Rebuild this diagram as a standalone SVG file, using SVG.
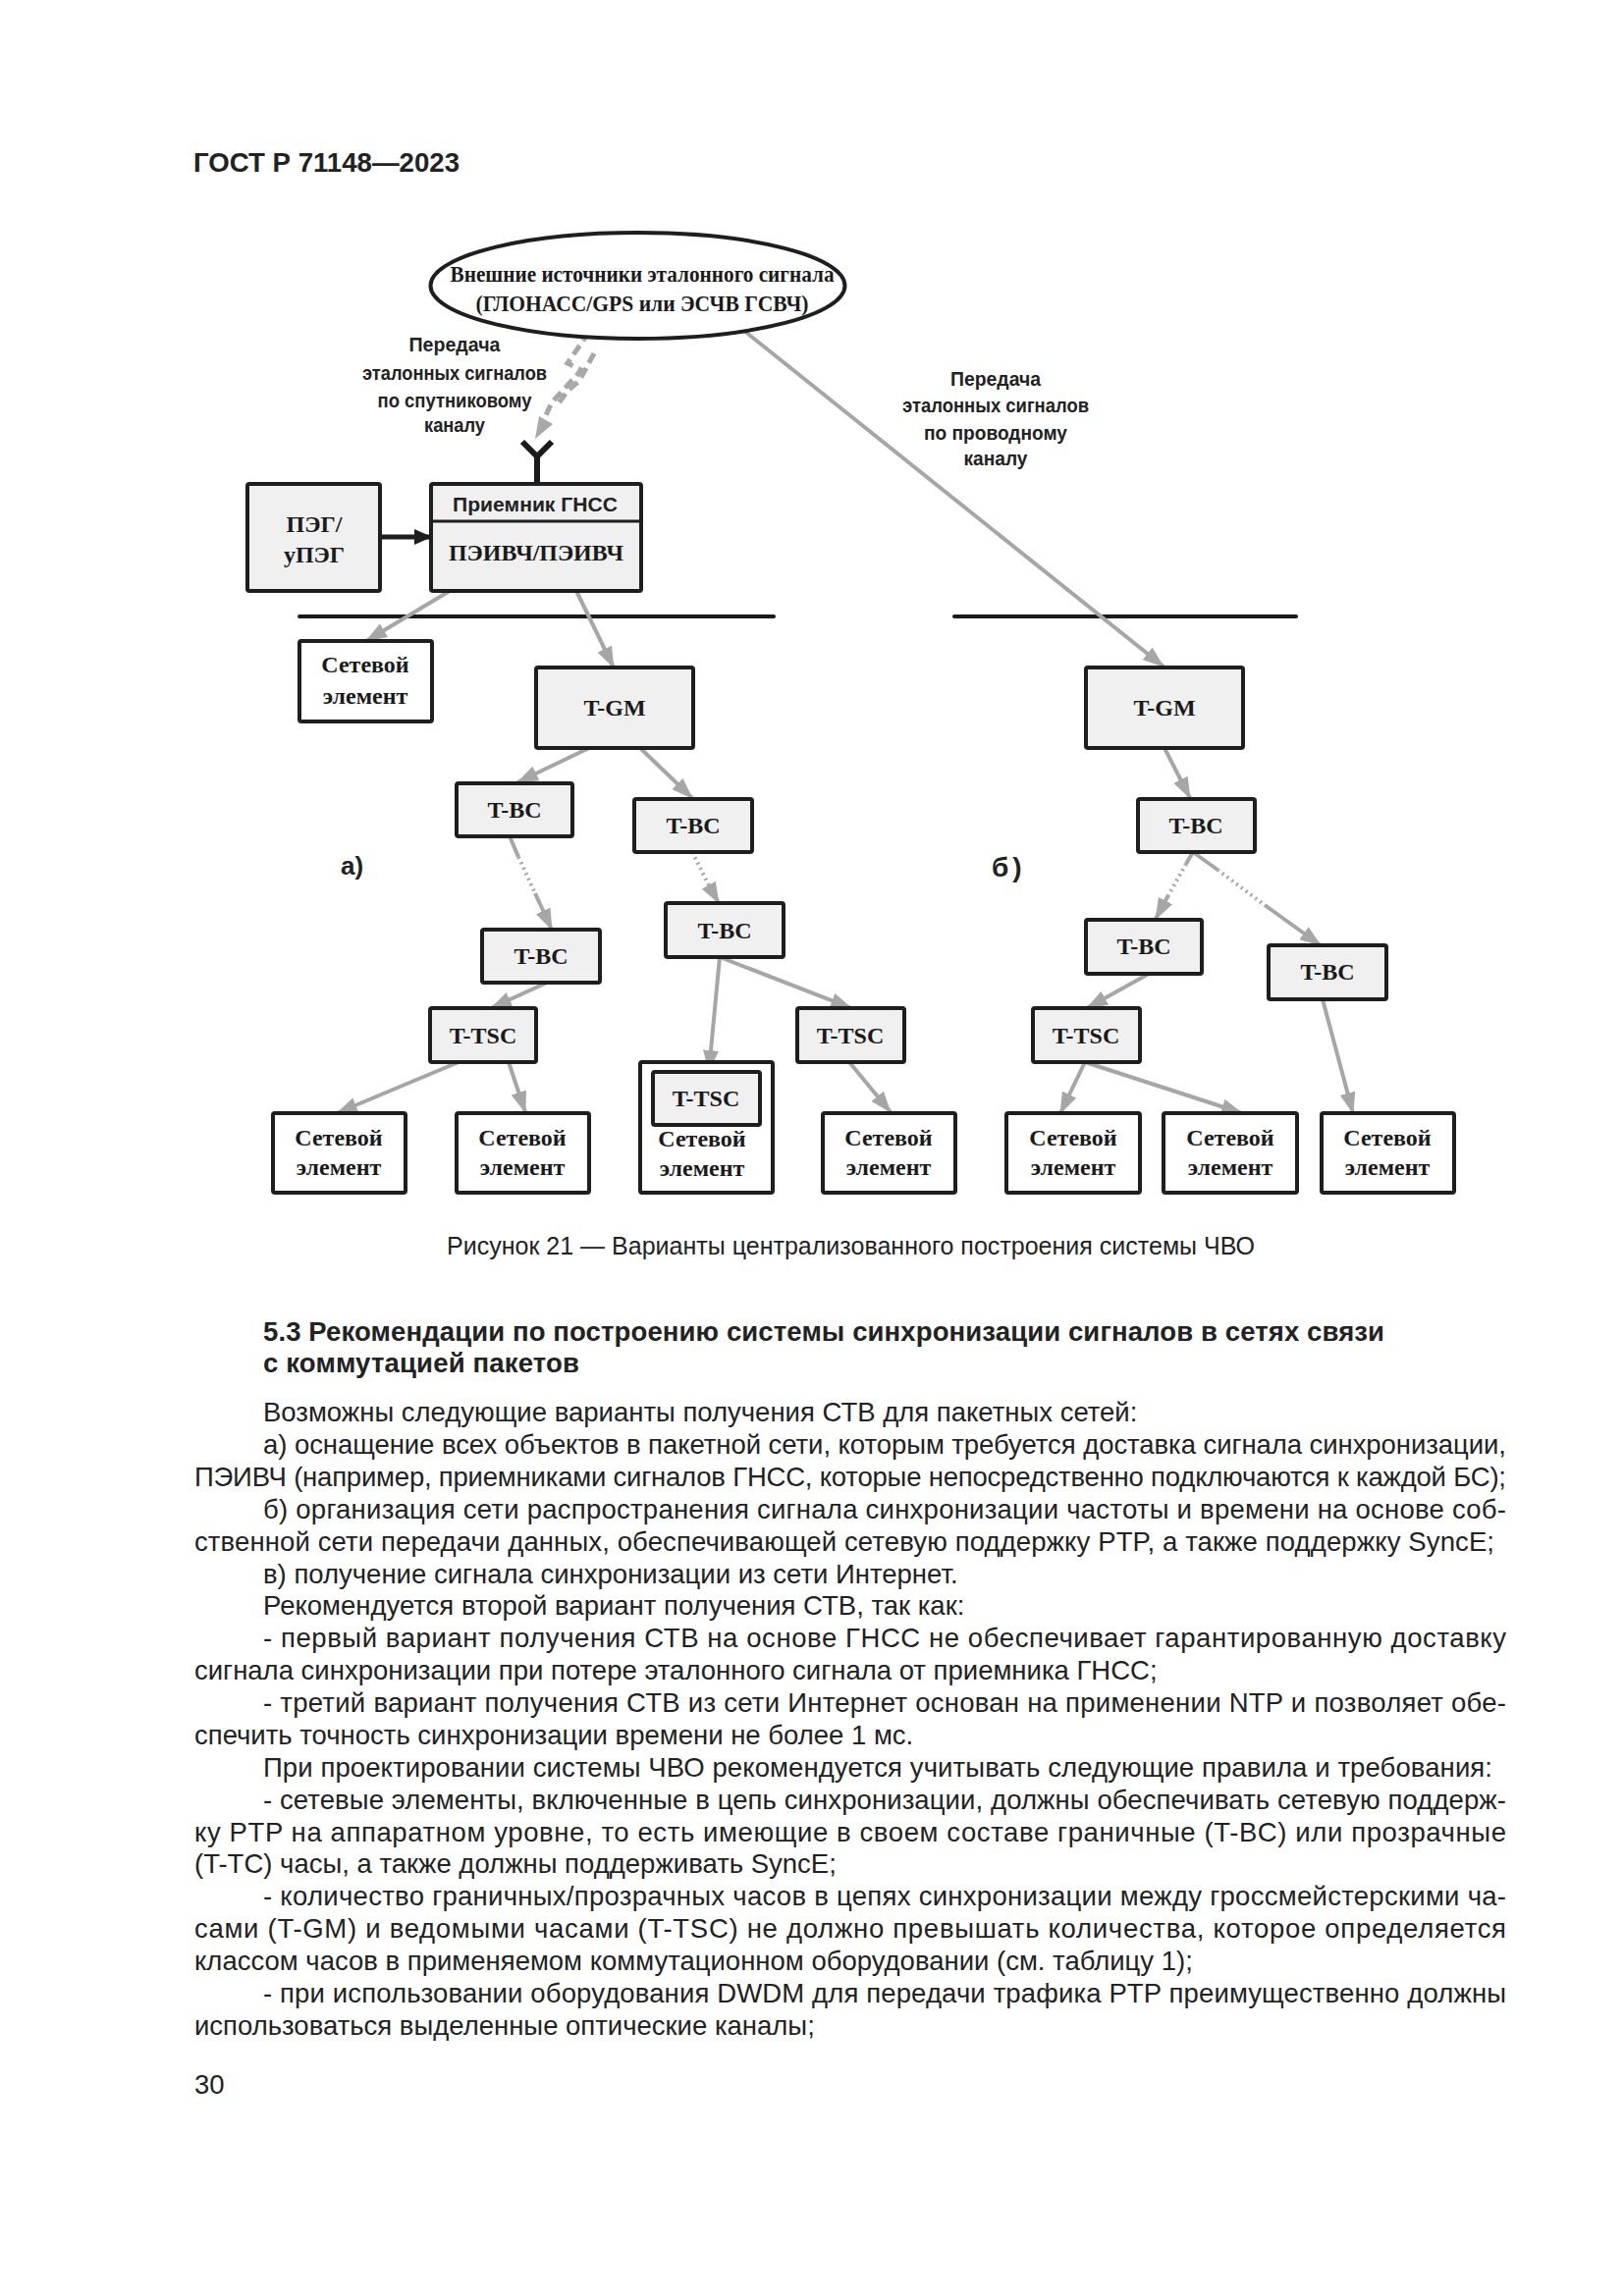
<svg xmlns="http://www.w3.org/2000/svg" width="1654" height="2339" viewBox="0 0 1654 2339">
<defs>
<style>
.bx{fill:#f0f0f0;stroke:#1e1e1e;stroke-width:4}
.wb{fill:#ffffff;stroke:#1e1e1e;stroke-width:4}
.lbl{font-family:"Liberation Serif","Times New Roman",serif;font-size:24px;font-weight:bold;fill:#1a1a1a;text-anchor:middle}
.ss{font-family:"Liberation Sans",Arial,sans-serif;font-weight:bold;font-size:21px;fill:#222;text-anchor:middle}
.conn{stroke:#a6a6a6;stroke-width:4;fill:none}
.dot{stroke:#a6a6a6;stroke-width:4;fill:none;stroke-dasharray:2 4}
.body{font-family:"Liberation Sans",Arial,sans-serif;font-size:27.5px;fill:#222}
.hd{font-family:"Liberation Sans",Arial,sans-serif;font-size:27.5px;font-weight:bold;fill:#222}
.sep{stroke:#1a1a1a;stroke-width:4;stroke-linecap:round}
</style>
<marker id="ga" viewBox="0 0 22 16" refX="21" refY="8" markerWidth="22" markerHeight="16" markerUnits="userSpaceOnUse" orient="auto">
<path d="M0,0 L22,8 L0,16 z" fill="#a6a6a6"/>
</marker>
<marker id="ba" viewBox="0 0 18 16" refX="17" refY="8" markerWidth="18" markerHeight="16" markerUnits="userSpaceOnUse" orient="auto">
<path d="M0,0 L18,8 L0,16 z" fill="#1e1e1e"/>
</marker>
</defs>
<rect x="0" y="0" width="1654" height="2339" fill="#ffffff"/>

<text x="197" y="175" font-family="Liberation Sans, Arial, sans-serif" font-weight="bold" font-size="27" fill="#222" textLength="271" lengthAdjust="spacingAndGlyphs">ГОСТ Р 71148—2023</text>

<g id="separators">
<line class="sep" x1="305" y1="628" x2="788" y2="628"/>
<line class="sep" x1="972" y1="628" x2="1320" y2="628"/>
</g>

<g id="connectors">
<line class="conn" x1="758" y1="337" x2="1185" y2="679" marker-end="url(#ga)"/>
<path d="M600,338 L578,370 L592,377 L562,410 L549,438" stroke="#a8a8a8" stroke-width="5" fill="none" stroke-dasharray="11 6"/>
<path d="M605,360 L590,388 L578,398 L566,415" stroke="#a8a8a8" stroke-width="5" fill="none" stroke-dasharray="11 6"/>
<polygon points="545,447 563,432 549,424" fill="#a8a8a8"/>
<path d="M532,450 L547,465 L562,450 M547,465 L547,493" stroke="#1a1a1a" stroke-width="6" fill="none"/>
<line x1="387" y1="547" x2="439" y2="547" stroke="#1e1e1e" stroke-width="5" marker-end="url(#ba)"/>
<line class="conn" x1="458" y1="602" x2="373" y2="653" marker-end="url(#ga)"/>
<line class="conn" x1="587" y1="602" x2="625" y2="680" marker-end="url(#ga)"/>
<line class="conn" x1="600" y1="762" x2="527" y2="797" marker-end="url(#ga)"/>
<line class="conn" x1="652" y1="762" x2="705" y2="813" marker-end="url(#ga)"/>
<line class="conn" x1="519" y1="852" x2="528" y2="873"/>
<line class="dot" x1="528" y1="873" x2="545" y2="910"/>
<line class="conn" x1="545" y1="910" x2="562" y2="947" marker-end="url(#ga)"/>
<line class="conn" x1="557" y1="1001" x2="500" y2="1027" marker-end="url(#ga)"/>
<line class="conn" x1="467" y1="1082" x2="343" y2="1134" marker-end="url(#ga)"/>
<line class="conn" x1="518" y1="1082" x2="535" y2="1133" marker-end="url(#ga)"/>
<line class="dot" x1="705" y1="868" x2="722" y2="902"/>
<line class="conn" x1="722" y1="902" x2="732" y2="920" marker-end="url(#ga)"/>
<line class="conn" x1="733" y1="975" x2="722" y2="1091" marker-end="url(#ga)"/>
<line class="conn" x1="733" y1="975" x2="867" y2="1027" marker-end="url(#ga)"/>
<line class="conn" x1="865" y1="1082" x2="907" y2="1133" marker-end="url(#ga)"/>
<line class="conn" x1="1186" y1="762" x2="1212" y2="813" marker-end="url(#ga)"/>
<line class="conn" x1="1215" y1="868" x2="1208" y2="880"/>
<line class="dot" x1="1208" y1="880" x2="1190" y2="912"/>
<line class="conn" x1="1190" y1="912" x2="1177" y2="936" marker-end="url(#ga)"/>
<line class="conn" x1="1215" y1="868" x2="1240" y2="886"/>
<line class="dot" x1="1240" y1="886" x2="1288" y2="922"/>
<line class="conn" x1="1288" y1="922" x2="1345" y2="963" marker-end="url(#ga)"/>
<line class="conn" x1="1170" y1="992" x2="1107" y2="1027" marker-end="url(#ga)"/>
<line class="conn" x1="1105" y1="1082" x2="1080" y2="1134" marker-end="url(#ga)"/>
<line class="conn" x1="1105" y1="1082" x2="1265" y2="1134" marker-end="url(#ga)"/>
<line class="conn" x1="1347" y1="1018" x2="1378" y2="1134" marker-end="url(#ga)"/>
</g>

<g id="labels-channels">
<text class="ss" x="463" y="358" textLength="93" lengthAdjust="spacingAndGlyphs">Передача</text>
<text class="ss" x="463" y="387" textLength="188" lengthAdjust="spacingAndGlyphs">эталонных сигналов</text>
<text class="ss" x="463" y="415" textLength="157" lengthAdjust="spacingAndGlyphs">по спутниковому</text>
<text class="ss" x="463" y="440" textLength="62" lengthAdjust="spacingAndGlyphs">каналу</text>
<text class="ss" x="1014" y="393" textLength="92" lengthAdjust="spacingAndGlyphs">Передача</text>
<text class="ss" x="1014" y="420" textLength="190" lengthAdjust="spacingAndGlyphs">эталонных сигналов</text>
<text class="ss" x="1014" y="448" textLength="146" lengthAdjust="spacingAndGlyphs">по проводному</text>
<text class="ss" x="1014" y="474" textLength="65" lengthAdjust="spacingAndGlyphs">каналу</text>
<text x="347" y="891" font-family="Liberation Sans, Arial, sans-serif" font-weight="bold" font-size="26" fill="#222">а)</text>
<text x="1010" y="893" font-family="Liberation Sans, Arial, sans-serif" font-weight="bold" font-size="28" fill="#222" letter-spacing="4">б)</text>
</g>

<g id="source">
<ellipse cx="649.5" cy="291" rx="211" ry="54" fill="#ffffff" stroke="#1e1e1e" stroke-width="4"/>
<text class="lbl" x="654" y="287" font-size="21" textLength="391" lengthAdjust="spacingAndGlyphs">Внешние источники эталонного сигнала</text>
<text class="lbl" x="654" y="317" font-size="21" textLength="339" lengthAdjust="spacingAndGlyphs">(ГЛОНАСС/GPS или ЭСЧВ ГСВЧ)</text>
</g>

<g id="peg">
<rect class="bx" x="252" y="493" width="135" height="109" rx="2"/>
<text class="lbl" x="320" y="542" font-size="25">ПЭГ/</text>
<text class="lbl" x="320" y="573" font-size="25">уПЭГ</text>
</g>

<g id="receiver">
<rect class="bx" x="439" y="493" width="214" height="109" rx="2"/>
<line x1="439" y1="531" x2="653" y2="531" stroke="#1e1e1e" stroke-width="3"/>
<text class="ss" x="545" y="521" font-size="22" textLength="168" lengthAdjust="spacingAndGlyphs">Приемник ГНСС</text>
<text class="lbl" x="546" y="571" textLength="178" lengthAdjust="spacingAndGlyphs">ПЭИВЧ/ПЭИВЧ</text>
</g>

<g id="se-top">
<rect class="wb" x="305" y="653" width="135" height="82" rx="2"/>
<text class="lbl" x="372" y="685">Сетевой</text>
<text class="lbl" x="372" y="717">элемент</text>
</g>

<g id="tgm-a">
<rect class="bx" x="546" y="680" width="160" height="82" rx="2"/>
<text class="lbl" x="626" y="729">T-GM</text>
</g>
<g id="tgm-b">
<rect class="bx" x="1106" y="680" width="160" height="82" rx="2"/>
<text class="lbl" x="1186" y="729">T-GM</text>
</g>

<g id="tbc1">
<rect class="bx" x="465" y="798" width="118" height="54" rx="2"/>
<text class="lbl" x="524" y="833">T-BC</text>
</g>
<g id="tbc2">
<rect class="bx" x="646" y="814" width="120" height="54" rx="2"/>
<text class="lbl" x="706" y="849">T-BC</text>
</g>
<g id="tbc3">
<rect class="bx" x="491" y="947" width="120" height="54" rx="2"/>
<text class="lbl" x="551" y="982">T-BC</text>
</g>
<g id="tbc4">
<rect class="bx" x="678" y="920" width="120" height="55" rx="2"/>
<text class="lbl" x="738" y="956">T-BC</text>
</g>
<g id="ttsc1">
<rect class="bx" x="438" y="1027" width="108" height="55" rx="2"/>
<text class="lbl" x="492" y="1063">T-TSC</text>
</g>
<g id="ttsc3">
<rect class="bx" x="812" y="1027" width="109" height="55" rx="2"/>
<text class="lbl" x="866" y="1063">T-TSC</text>
</g>
<g id="se1">
<rect class="wb" x="278" y="1134" width="135" height="81" rx="2"/>
<text class="lbl" x="345" y="1167">Сетевой</text>
<text class="lbl" x="345" y="1197">элемент</text>
</g>
<g id="se2">
<rect class="wb" x="465" y="1134" width="135" height="81" rx="2"/>
<text class="lbl" x="532" y="1167">Сетевой</text>
<text class="lbl" x="532" y="1197">элемент</text>
</g>
<g id="se3">
<rect class="wb" x="652" y="1082" width="135" height="133" rx="2"/>
<rect class="bx" x="665" y="1092" width="109" height="54" rx="2"/>
<text class="lbl" x="719" y="1127">T-TSC</text>
<text class="lbl" x="715" y="1168">Сетевой</text>
<text class="lbl" x="715" y="1198">элемент</text>
</g>
<g id="se4">
<rect class="wb" x="838" y="1134" width="135" height="81" rx="2"/>
<text class="lbl" x="905" y="1167">Сетевой</text>
<text class="lbl" x="905" y="1197">элемент</text>
</g>

<g id="tbc5">
<rect class="bx" x="1159" y="814" width="119" height="54" rx="2"/>
<text class="lbl" x="1218" y="849">T-BC</text>
</g>
<g id="tbc6">
<rect class="bx" x="1106" y="937" width="118" height="55" rx="2"/>
<text class="lbl" x="1165" y="972">T-BC</text>
</g>
<g id="tbc7">
<rect class="bx" x="1292" y="963" width="120" height="55" rx="2"/>
<text class="lbl" x="1352" y="998">T-BC</text>
</g>
<g id="ttsc4">
<rect class="bx" x="1052" y="1027" width="109" height="55" rx="2"/>
<text class="lbl" x="1106" y="1063">T-TSC</text>
</g>
<g id="se5">
<rect class="wb" x="1025" y="1134" width="136" height="81" rx="2"/>
<text class="lbl" x="1093" y="1167">Сетевой</text>
<text class="lbl" x="1093" y="1197">элемент</text>
</g>
<g id="se6">
<rect class="wb" x="1185" y="1134" width="136" height="81" rx="2"/>
<text class="lbl" x="1253" y="1167">Сетевой</text>
<text class="lbl" x="1253" y="1197">элемент</text>
</g>
<g id="se7">
<rect class="wb" x="1346" y="1134" width="135" height="81" rx="2"/>
<text class="lbl" x="1413" y="1167">Сетевой</text>
<text class="lbl" x="1413" y="1197">элемент</text>
</g>

<g id="caption">
<text x="455" y="1278" font-family="Liberation Sans, Arial, sans-serif" font-size="25" fill="#222" textLength="823" lengthAdjust="spacing">Рисунок 21 — Варианты централизованного построения системы ЧВО</text>
</g>

<g id="text">
<text class="hd" x="268" y="1366" textLength="1142" lengthAdjust="spacing">5.3 Рекомендации по построению системы синхронизации сигналов в сетях связи</text>
<text class="hd" x="268" y="1398" textLength="322" lengthAdjust="spacing">с коммутацией пакетов</text>
<text class="body" x="268" y="1448">Возможны следующие варианты получения СТВ для пакетных сетей:</text>
<text class="body" x="268" y="1481" textLength="1266" lengthAdjust="spacing">а) оснащение всех объектов в пакетной сети, которым требуется доставка сигнала синхронизации,</text>
<text class="body" x="198" y="1514" textLength="1336" lengthAdjust="spacing">ПЭИВЧ (например, приемниками сигналов ГНСС, которые непосредственно подключаются к каждой БС);</text>
<text class="body" x="268" y="1547" textLength="1266" lengthAdjust="spacing">б) организация сети распространения сигнала синхронизации частоты и времени на основе соб-</text>
<text class="body" x="198" y="1580" textLength="1324" lengthAdjust="spacing">ственной сети передачи данных, обеспечивающей сетевую поддержку PTP, а также поддержку SyncE;</text>
<text class="body" x="268" y="1613">в) получение сигнала синхронизации из сети Интернет.</text>
<text class="body" x="268" y="1645">Рекомендуется второй вариант получения СТВ, так как:</text>
<text class="body" x="268" y="1678" textLength="1266" lengthAdjust="spacing">- первый вариант получения СТВ на основе ГНСС не обеспечивает гарантированную доставку</text>
<text class="body" x="198" y="1711">сигнала синхронизации при потере эталонного сигнала от приемника ГНСС;</text>
<text class="body" x="268" y="1744" textLength="1266" lengthAdjust="spacing">- третий вариант получения СТВ из сети Интернет основан на применении NTP и позволяет обе-</text>
<text class="body" x="198" y="1777">спечить точность синхронизации времени не более 1 мс.</text>
<text class="body" x="268" y="1810" textLength="1252" lengthAdjust="spacing">При проектировании системы ЧВО рекомендуется учитывать следующие правила и требования:</text>
<text class="body" x="268" y="1843" textLength="1266" lengthAdjust="spacing">- сетевые элементы, включенные в цепь синхронизации, должны обеспечивать сетевую поддерж-</text>
<text class="body" x="198" y="1876" textLength="1336" lengthAdjust="spacing">ку PTP на аппаратном уровне, то есть имеющие в своем составе граничные (T-BC) или прозрачные</text>
<text class="body" x="198" y="1908">(T-TC) часы, а также должны поддерживать SyncE;</text>
<text class="body" x="268" y="1941" textLength="1266" lengthAdjust="spacing">- количество граничных/прозрачных часов в цепях синхронизации между гроссмейстерскими ча-</text>
<text class="body" x="198" y="1974" textLength="1336" lengthAdjust="spacing">сами (T-GM) и ведомыми часами (T-TSC) не должно превышать количества, которое определяется</text>
<text class="body" x="198" y="2007">классом часов в применяемом коммутационном оборудовании (см. таблицу 1);</text>
<text class="body" x="268" y="2040" textLength="1266" lengthAdjust="spacing">- при использовании оборудования DWDM для передачи трафика PTP преимущественно должны</text>
<text class="body" x="198" y="2073">использоваться выделенные оптические каналы;</text>
<text class="body" x="198" y="2133">30</text>
</g>
</svg>
